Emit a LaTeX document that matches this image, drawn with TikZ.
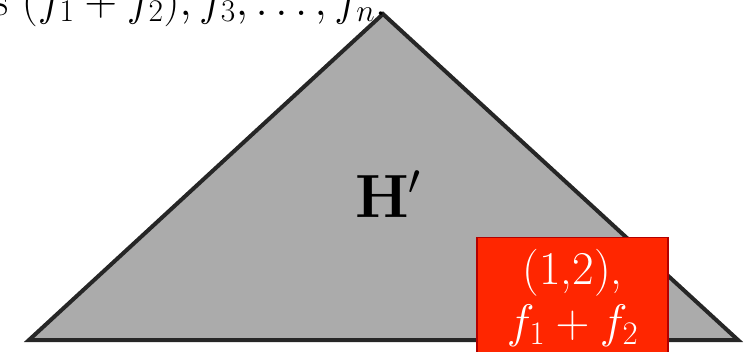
\RequirePackage{fix-cm}
\documentclass[tikz,border=0pt]{standalone}
\definecolor{rojo}{HTML}{FF2600}
\definecolor{borde}{HTML}{262626}
\begin{document}
\begin{tikzpicture}[x=1pt, y=-1pt,
  arbol/.style={draw=borde, fill=black!33, line width=4pt, line join=miter},
  caja/.style={draw=red!70!black, fill=rojo, line width=1.2pt, text=white, align=center, anchor=north, minimum width=191pt, inner ysep=12pt, font=\fontsize{47}{53}\selectfont}]
\useasboundingbox (0,0) rectangle (752,351);
\clip (0,0) rectangle (752,351);
% el arbol H'
\coordinate (cima) at (383,14);
\coordinate (izq) at (29,340);
\coordinate (der) at (738,340);
\draw[arbol] (cima) -- (izq) -- (der) -- cycle;
\node[anchor=base, inner sep=0pt, font=\fontsize{61}{70}\selectfont] (H) at (388,217) {$\mathbf{H}'$};
\node[caja] (hoja) at (572.5,237) {(1,2),\\$f_1+f_2$};
% listado de arriba, cortado por el borde
\node[anchor=base west, inner sep=0pt, font=\fontsize{45}{53}\selectfont] (lista) at (-8,15) {s $(f_1+f_2), f_3, \dots, f_n$.};
\end{tikzpicture}
\end{document}
